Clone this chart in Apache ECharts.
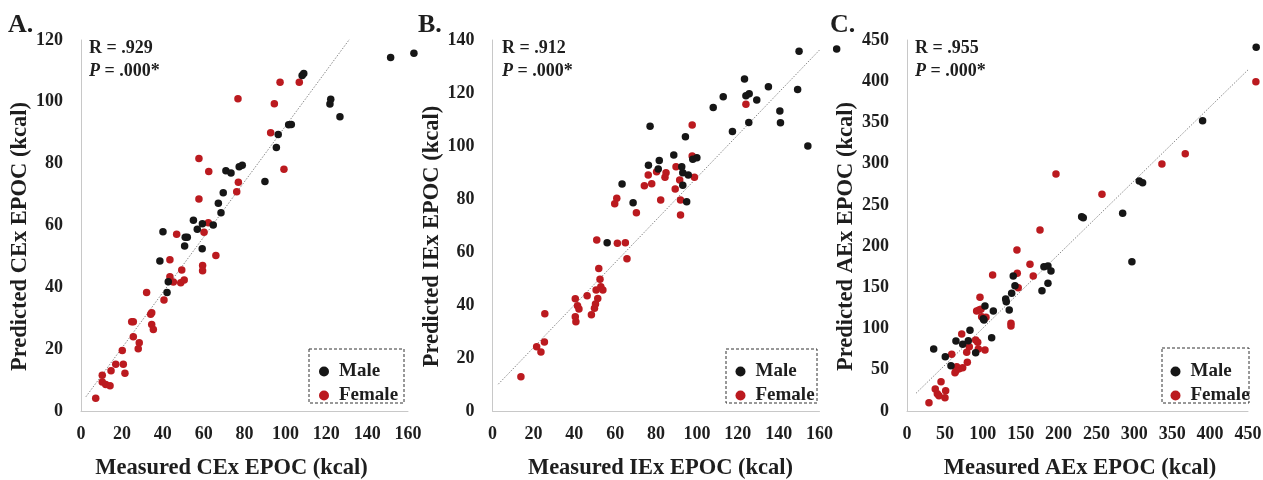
<!DOCTYPE html>
<html>
<head>
<meta charset="utf-8">
<script src="https://cdn.jsdelivr.net/npm/echarts@6/dist/echarts.min.js"></script>
<style>
html,body{margin:0;padding:0;background:#fff;}
#chart{width:1263px;height:480px;}
</style>
</head>
<body>
<div id="chart"></div>
<script>
// ---- Panel A: CEx ----
const maleA = [[151.5,114.3],[162.9,115.7],[108.2,108.5],[109.0,109.2],[122.2,100.8],[121.8,99.3],[126.7,95.2],[101.6,92.6],[102.9,92.7],[96.5,89.4],[95.6,85.2],[90.0,74.2],[70.9,77.7],[73.4,77.0],[77.4,79.0],[78.9,79.5],[69.6,70.6],[67.2,67.2],[68.5,64.1],[55.0,61.7],[59.4,60.6],[64.7,60.2],[56.9,58.8],[40.1,58.0],[51.0,56.2],[52.0,56.2],[50.7,53.4],[59.3,52.5],[38.6,48.5],[42.7,41.8],[42.1,38.3]];
const femaleA = [[76.8,101.0],[97.4,106.3],[106.8,106.3],[94.6,99.4],[92.8,90.0],[99.3,78.2],[57.7,81.7],[62.5,77.5],[77.0,74.0],[76.2,70.9],[57.7,68.6],[62.3,60.9],[46.8,57.2],[60.2,57.8],[43.5,48.9],[66.0,50.3],[59.5,47.1],[59.5,45.4],[49.3,45.6],[43.5,43.4],[45.2,41.7],[48.8,41.5],[50.5,42.4],[32.1,38.3],[40.6,35.9],[34.6,31.8],[34.1,31.3],[24.8,28.9],[25.6,28.9],[34.6,28.0],[35.4,26.4],[25.6,24.0],[28.5,22.1],[28.0,20.1],[20.2,19.6],[17.0,15.1],[20.7,15.1],[14.7,13.0],[21.5,12.2],[10.4,11.6],[10.4,9.4],[12.1,8.6],[14.2,8.2],[7.2,4.1]];
const trendA = [[2.4,4.6],[132.9,121.6]];

// ---- Panel B: IEx ----
const maleB = [[150.0,135.8],[168.4,136.6],[123.3,125.3],[135.0,122.4],[149.3,121.3],[124.0,119.0],[125.6,119.7],[112.9,118.6],[129.3,117.4],[108.0,114.5],[140.6,113.2],[140.9,108.8],[125.4,108.9],[117.4,105.5],[154.3,100.0],[77.1,107.5],[94.4,103.5],[88.7,96.6],[98.0,95.0],[100.0,95.6],[76.3,92.7],[81.6,94.5],[81.1,91.3],[92.6,92.2],[93.1,89.9],[95.8,89.1],[93.1,85.2],[63.4,85.7],[68.8,78.6],[95.0,79.0],[56.1,63.5]];
const femaleB = [[124.0,115.8],[97.7,107.9],[97.7,96.2],[89.8,92.2],[76.2,89.1],[80.3,90.3],[84.9,89.9],[84.4,88.2],[77.9,85.8],[74.3,85.0],[91.6,87.2],[98.8,88.2],[89.4,83.8],[60.8,80.3],[59.8,78.2],[82.3,79.6],[92.0,79.6],[70.4,74.8],[92.0,74.0],[51.0,64.5],[61.1,63.3],[65.0,63.5],[65.8,57.5],[52.0,53.8],[52.6,49.7],[53.0,46.9],[50.7,45.7],[54.0,45.7],[46.3,43.5],[40.5,42.4],[51.5,42.5],[50.4,40.4],[49.9,38.8],[48.4,36.3],[41.6,39.7],[42.3,38.5],[40.5,35.6],[40.8,33.7],[25.6,36.7],[25.4,26.0],[23.7,22.3],[21.6,24.2],[13.9,12.9]];
const trendB = [[2.8,10.1],[161.1,137.1]];

// ---- Panel C: AEx ----
const maleC = [[460.8,441.2],[390.1,352.2],[306.5,279.0],[310.9,276.9],[284.6,239.8],[230.5,235.7],[232.6,234.5],[296.8,181.1],[180.7,175.1],[186.0,175.9],[190.0,169.8],[186.0,154.9],[178.1,145.9],[140.2,163.8],[142.5,152.0],[138.1,142.7],[130.2,135.9],[131.0,132.6],[134.9,122.5],[102.9,127.4],[100.7,112.0],[101.6,110.4],[113.9,121.3],[111.7,88.9],[83.1,97.9],[64.6,84.9],[73.5,80.9],[80.9,85.3],[90.6,70.7],[50.5,65.9],[35.2,75.2],[58.0,55.0]];
const femaleC = [[460.4,399.4],[367.2,312.1],[336.4,299.6],[196.6,287.5],[257.3,262.9],[175.5,219.6],[145.1,195.3],[162.3,177.9],[166.6,163.8],[145.5,167.0],[146.8,149.6],[113.0,165.0],[96.3,137.9],[91.9,121.3],[95.0,122.5],[97.6,123.4],[98.5,114.4],[104.2,113.7],[137.2,106.4],[137.2,103.1],[72.2,93.4],[90.6,86.1],[93.3,83.3],[82.2,78.0],[78.8,71.2],[94.1,75.2],[102.9,74.0],[59.0,68.8],[79.6,59.1],[65.6,53.7],[69.0,51.3],[64.6,48.9],[73.5,52.5],[63.3,46.5],[44.9,35.5],[37.3,26.7],[51.0,24.6],[40.0,21.0],[42.2,18.6],[50.1,16.1],[29.0,10.1]];
const trendC = [[11.9,21.5],[462,424.5]];

const panels = [
  {letter:'A.', r:'.929', p:'.000*', xName:'Measured CEx EPOC (kcal)', yName:'Predicted CEx EPOC (kcal)', xMax:160, xInt:20, yMax:120, yInt:20, male:maleA, female:femaleA, trend:trendA},
  {letter:'B.', r:'.912', p:'.000*', xName:'Measured IEx EPOC (kcal)', yName:'Predicted IEx EPOC (kcal)', xMax:160, xInt:20, yMax:140, yInt:20, male:maleB, female:femaleB, trend:trendB},
  {letter:'C.', r:'.955', p:'.000*', xName:'Measured AEx EPOC (kcal)', yName:'Predicted AEx EPOC (kcal)', xMax:450, xInt:50, yMax:450, yInt:50, male:maleC, female:femaleC, trend:trendC}
];

const FONT = '"Liberation Serif","Times New Roman",serif';
const BLACK = '#161616', RED = '#bb1a1f', TXT = '#1e1e1e';

// layout (pixels)
const gridPos = [
  {left:81, top:40, width:327, height:371, letterX:8, rX:89, box:[309,349,95,54], legLeft:314, xPad:[0,26,0,0]},
  {left:492.5, top:40, width:327, height:371, letterX:418, rX:502, box:[726,349,91,54], legLeft:730.5, xPad:[0,0,0,9]},
  {left:907, top:40, width:341, height:371, letterX:830, rX:915, box:[1162,348,87,55], legLeft:1165.5, xPad:[0,0,0,5]}
];

const option = {
  animation:false,
  backgroundColor:'#fff',
  grid:[], xAxis:[], yAxis:[], series:[], legend:[], graphic:[]
};

panels.forEach((p,i)=>{
  const g = gridPos[i];
  option.grid.push({left:g.left, top:g.top, width:g.width, height:g.height, containLabel:false, outerBoundsMode:'none'});
  option.xAxis.push({
    type:'value', gridIndex:i, min:0, max:p.xMax, interval:p.xInt,
    name:p.xName, nameLocation:'middle', nameGap:46,
    nameTextStyle:{fontFamily:FONT, fontWeight:'bold', fontSize:22.5, color:TXT, padding:g.xPad},
    axisLine:{show:true, lineStyle:{color:'#c8c8c8', width:1}},
    axisTick:{show:false}, splitLine:{show:false},
    axisLabel:{fontFamily:FONT, fontWeight:'bold', fontSize:18, color:TXT, margin:14}
  });
  option.yAxis.push({
    type:'value', gridIndex:i, min:0, max:p.yMax, interval:p.yInt,
    name:p.yName, nameLocation:'middle', nameGap:45,
    nameTextStyle:{fontFamily:FONT, fontWeight:'bold', fontSize:22.5, color:TXT, padding:[0,22,0,0]},
    axisLine:{show:true, lineStyle:{color:'#c8c8c8', width:1}},
    axisTick:{show:false}, splitLine:{show:false},
    axisLabel:{fontFamily:FONT, fontWeight:'bold', fontSize:18, color:TXT, margin:18}
  });
  option.series.push({
    type:'line', xAxisIndex:i, yAxisIndex:i, data:p.trend, showSymbol:false, symbol:'none',
    lineStyle:{color:'#8a8a8a', width:1, type:[1.5,1.5]}, silent:true, z:1
  });
  option.series.push({
    name:'Male', type:'scatter', xAxisIndex:i, yAxisIndex:i, data:p.male,
    symbolSize:7.5, itemStyle:{color:BLACK, opacity:1}, clip:false, z:3
  });
  option.series.push({
    name:'Female', type:'scatter', xAxisIndex:i, yAxisIndex:i, data:p.female,
    symbolSize:7.5, itemStyle:{color:RED, opacity:1}, clip:false, z:2
  });
  option.legend.push({
    data:[{name:'Male', itemStyle:{color:BLACK}},{name:'Female', itemStyle:{color:RED}}],
    orient:'vertical', left:g.legLeft, top:357, icon:'circle',
    itemWidth:14, itemHeight:10, itemGap:5,
    textStyle:{fontFamily:FONT, fontWeight:'bold', fontSize:19, color:TXT, lineHeight:18, padding:[0,0,0,3]}
  });
  option.graphic.push({
    type:'rect', shape:{x:g.box[0], y:g.box[1], width:g.box[2], height:g.box[3]},
    style:{fill:'none', stroke:'#333', lineWidth:1, lineDash:[3,2]}, z:10, silent:true
  });
  option.graphic.push({
    type:'text', left:g.letterX, top:12,
    style:{text:p.letter, font:'bold 26px '+FONT, fill:TXT}
  });
  option.graphic.push({
    type:'text', left:g.rX, top:37,
    style:{
      text:'R = '+p.r+'\n{i|P} = '+p.p,
      font:'bold 18px '+FONT, fill:TXT, lineHeight:23,
      rich:{i:{fontStyle:'italic', fontWeight:'bold', fontSize:18, fontFamily:FONT, fill:TXT}}
    }
  });
});

const chart = echarts.init(document.getElementById('chart'), null, {renderer:'canvas'});
chart.setOption(option);
</script>
</body>
</html>
